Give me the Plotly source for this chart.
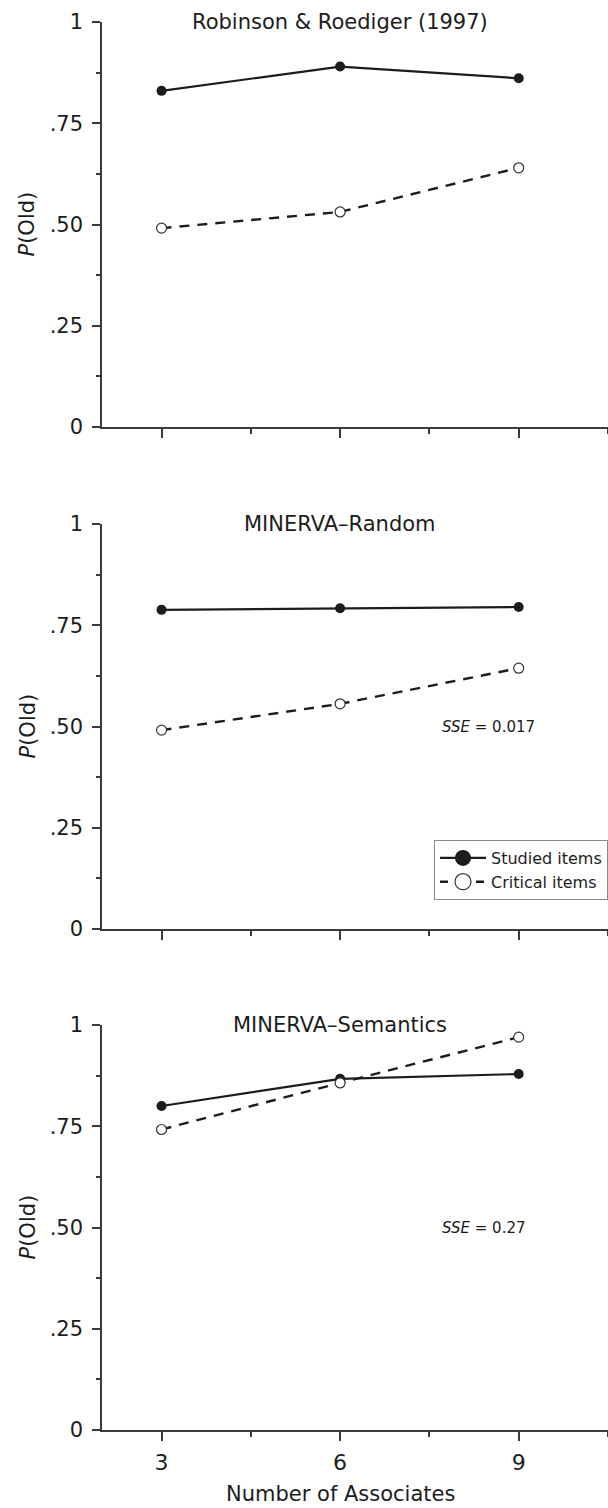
import plotly.graph_objects as go

# ---------------- data ----------------
associates = [3, 6, 9]
panel_titles = ["Robinson & Roediger (1997)", "MINERVA–Random", "MINERVA–Semantics"]
studied_rr = [0.830, 0.890, 0.861]
critical_rr = [0.491, 0.531, 0.640]
studied_random = [0.788, 0.792, 0.795]
critical_random = [0.491, 0.556, 0.644]
studied_sem = [0.800, 0.867, 0.879]
critical_sem = [0.742, 0.857, 0.970]
sse_values = [None, "0.017", "0.27"]
y_tickvals = [0, 0.25, 0.5, 0.75, 1]
y_ticktext = ["0", ".25", ".50", ".75", "1"]
y_minor = [0.125, 0.375, 0.625, 0.875]
x_tickvals = [3, 6, 9]
x_ticktext = ["3", "6", "9"]
x_minor = [4.5, 7.5, 10.5]
legend_names = ["Studied items", "Critical items"]
y_title = "<i>P</i>(Old)"
x_title = "Number of Associates"

studied = [studied_rr, studied_random, studied_sem]
critical = [critical_rr, critical_random, critical_sem]

# ---------------- style ----------------
FONT = "DejaVu Sans"
INK = "#1c1c1c"
AXIS = "#3a3a3a"
W, H = 608, 1508
ML, MR, MT, MB = 102, 0, 22, 78
PH = H - MT - MB  # paper height in px
panel_px = [(22, 427), (524, 929), (1025, 1430)]  # (top, bottom) pixel rows


def dom(top, bottom):
    return [(H - MB - bottom) / PH, (H - MB - top) / PH]


fig = go.Figure()

for i in range(3):
    sfx = "" if i == 0 else str(i + 1)
    fig.add_trace(go.Scatter(
        x=associates, y=studied[i], xaxis="x" + sfx, yaxis="y" + sfx,
        mode="lines+markers", showlegend=False, cliponaxis=False,
        line=dict(color=INK, width=2.2),
        marker=dict(symbol="circle", size=10, color=INK, line=dict(width=0)),
    ))
    fig.add_trace(go.Scatter(
        x=associates, y=critical[i], xaxis="x" + sfx, yaxis="y" + sfx,
        mode="lines+markers", showlegend=False, cliponaxis=False,
        line=dict(color=INK, width=2.4, dash="10px,8px"),
        marker=dict(symbol="circle", size=10, color="white",
                    line=dict(color="#333333", width=1.2)),
    ))

# legend-only entries (bigger symbols, as in the reference legend)
fig.add_trace(go.Scatter(
    x=[None], y=[None], xaxis="x2", yaxis="y2", name=legend_names[0],
    mode="lines+markers", line=dict(color=INK, width=2.2),
    marker=dict(symbol="circle", size=16, color=INK),
))
fig.add_trace(go.Scatter(
    x=[None], y=[None], xaxis="x2", yaxis="y2", name=legend_names[1],
    mode="lines+markers", line=dict(color=INK, width=2.4, dash="8px,28px"),
    marker=dict(symbol="circle", size=16, color="white",
                line=dict(color="#333333", width=1.2)),
))

layout = dict(
    width=W, height=H, autosize=False,
    margin=dict(l=ML, r=MR, t=MT, b=MB, pad=0),
    paper_bgcolor="white", plot_bgcolor="white",
    font=dict(family=FONT, color=INK, size=21),
    showlegend=True,
    legend=dict(
        x=(434 - ML) / (W - ML - MR), y=(H - MB - 840) / PH,
        xanchor="left", yanchor="top",
        bgcolor="white", bordercolor="#8a8a8a", borderwidth=1,
        font=dict(family=FONT, size=16, color=INK),
        itemwidth=46, tracegroupgap=0,
    ),
)

annotations = []
for i in range(3):
    sfx = "" if i == 0 else str(i + 1)
    top, bottom = panel_px[i]
    layout["xaxis" + sfx] = dict(
        domain=[0, 1], range=[2, 10.5], anchor="y" + sfx,
        tickmode="array", tickvals=x_tickvals, ticktext=x_ticktext,
        showticklabels=(i == 2), ticks="outside", ticklen=9, tickwidth=1.5,
        tickcolor=AXIS, showline=True, linecolor=AXIS, linewidth=1.5,
        showgrid=False, zeroline=False, ticklabelstandoff=3,
        tickfont=dict(size=22, color=INK, family=FONT),
        minor=dict(tickmode="array", tickvals=x_minor, ticks="outside",
                   ticklen=5, tickwidth=1.5, tickcolor=AXIS, showgrid=False),
    )
    layout["yaxis" + sfx] = dict(
        domain=dom(top, bottom), range=[0, 1], anchor="x" + sfx,
        tickmode="array", tickvals=y_tickvals, ticktext=y_ticktext,
        ticks="outside", ticklen=8, tickwidth=1.5, tickcolor=AXIS,
        showline=True, linecolor=AXIS, linewidth=1.5,
        showgrid=False, zeroline=False, ticklabelstandoff=5,
        tickfont=dict(size=21, color=INK, family=FONT),
        minor=dict(tickmode="array", tickvals=y_minor, ticks="outside",
                   ticklen=4, tickwidth=1.5, tickcolor=AXIS, showgrid=False),
    )
    # panel title
    annotations.append(dict(
        text=panel_titles[i], xref="x" + sfx, yref="y" + sfx, x=6, y=1,
        xanchor="center", yanchor="middle", yshift=0, showarrow=False,
        font=dict(family=FONT, size=21, color=INK),
    ))
    # y-axis title
    annotations.append(dict(
        text=y_title, xref="paper", yref="y" + sfx + " domain", x=0, y=0.5,
        xshift=-75, xanchor="center", yanchor="middle", textangle=-90,
        showarrow=False, font=dict(family=FONT, size=21, color=INK),
    ))
    if sse_values[i] is not None:
        annotations.append(dict(
            text="<i>SSE</i> = " + sse_values[i], xref="x" + sfx, yref="y" + sfx,
            x=7.68, y=0.5, xanchor="left", yanchor="middle", showarrow=False,
            font=dict(family=FONT, size=15, color=INK),
        ))

annotations.append(dict(
    text=x_title, xref="x3", yref="paper", x=6, y=0, yshift=-77,
    xanchor="center", yanchor="bottom", showarrow=False, borderpad=0,
    font=dict(family=FONT, size=21, color=INK),
))
layout["annotations"] = annotations

fig.update_layout(**layout)
fig.write_html("out.html")
